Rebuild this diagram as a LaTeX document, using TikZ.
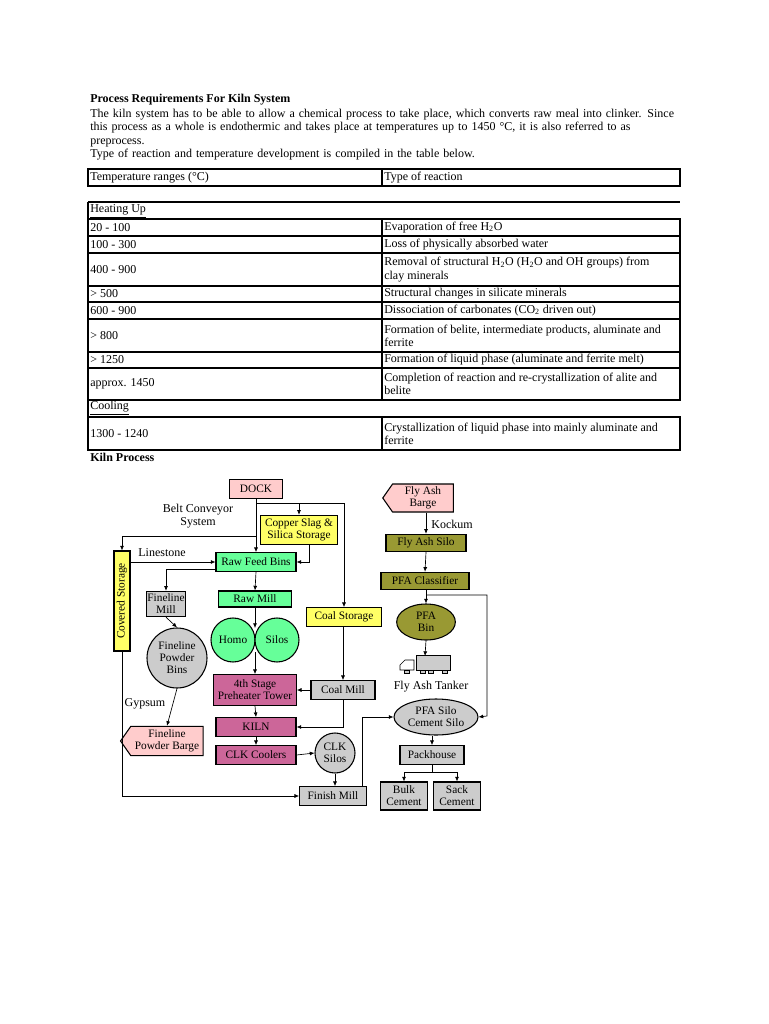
\documentclass[tikz,border=0pt]{standalone}
\usepackage{fontspec}
\setmainfont{Liberation Serif}
\usetikzlibrary{arrows.meta,shapes.geometric,shapes.symbols}
\definecolor{pinkf}{HTML}{FFCCCC}
\definecolor{yelf}{HTML}{FFFF66}
\definecolor{grnf}{HTML}{66FF99}
\definecolor{grayf}{HTML}{CCCCCC}
\definecolor{magf}{HTML}{CC6699}
\definecolor{olvf}{HTML}{999933}
\tikzset{
 txt/.style={font=\fontsize{9}{10}\selectfont,inner sep=0pt},
 box/.style={draw,line width=0.8pt,font=\fontsize{8.5}{9}\selectfont,align=center,inner sep=1pt,minimum height=14pt},
 circ/.style={draw,circle,line width=0.8pt,font=\fontsize{8.5}{9}\selectfont,align=center,inner sep=0pt},
 ell/.style={draw,ellipse,line width=0.8pt,font=\fontsize{8.5}{9}\selectfont,align=center,inner sep=0pt},
 arr/.style={-{Latex[length=3.5pt,width=3pt]},line width=0.5pt},
 ln/.style={line width=0.5pt},
 row/.style={draw,line width=1.4pt},
}
\begin{document}
\begin{tikzpicture}[x=0.75pt,y=-0.75pt]
\useasboundingbox (0,0) rectangle (768,1024);
% text
\node[txt,anchor=west,font=\fontsize{9}{10}\selectfont\bfseries] (t1) at (90,100) {Process Requirements For Kiln System};
\node[txt,anchor=north west,align=left,text width=600pt*0.75] (t2) at (90,109) {The kiln system has to be able to allow a chemical process to take place, which converts raw meal into clinker. Since\\this process as a whole is endothermic and takes place at temperatures up to 1450 °C, it is also referred to as\\preprocess.\\Type of reaction and temperature development is compiled in the table below.};
% table
\newcommand{\trow}[5]{%
 \draw[row] (88,#1) rectangle (680,#2); \draw[row] (382,#1) -- (382,#2);
 \node[txt,anchor=west] at (90,{(#1+#2)/2}) {#3};
 \node[txt,anchor=west,align=left] at (384,{(#1+#2)/2}) {#4};}
\trow{169}{186}{Temperature ranges (°C)}{Type of reaction}{}
\draw[line width=1.4pt] (88,202) -- (680,202);
\draw[row] (88,202) -- (88,219);
\node[txt,anchor=west] (hu) at (90,211) {\underline{Heating Up}};
\trow{219}{236}{20 - 100}{Evaporation of free H\textsubscript{2}O}{}
\trow{236}{253}{100 - 300}{Loss of physically absorbed water}{}
\trow{253}{286}{400 - 900}{Removal of structural H\textsubscript{2}O (H\textsubscript{2}O and OH groups) from\\clay minerals}{}
\trow{286}{302}{> 500}{Structural changes in silicate minerals}{}
\trow{302}{319}{600 - 900}{Dissociation of carbonates (CO\textsubscript{2} driven out)}{}
\trow{319}{352}{> 800}{Formation of belite, intermediate products, aluminate and\\ferrite}{}
\trow{352}{368}{> 1250}{Formation of liquid phase (aluminate and ferrite melt)}{}
\trow{368}{400}{approx. 1450}{Completion of reaction and re-crystallization of alite and\\belite}{}
\draw[row] (88,400) -- (88,417);
\node[txt,anchor=west] (co) at (90,408) {\underline{Cooling}};
\trow{417}{450}{1300 - 1240}{Crystallization of liquid phase into mainly aluminate and\\ferrite}{}
\node[txt,anchor=west,font=\fontsize{9}{10}\selectfont\bfseries] (kp) at (90,457) {Kiln Process};
% diagram nodes
\node[box,fill=pinkf,minimum width=40pt] (dock) at (256,489) {DOCK};
\node[txt,align=center] (belt) at (198,516) {Belt Conveyor\\System};
\node[box,fill=yelf,minimum width=58pt,minimum height=22pt] (cs) at (299,530) {Copper Slag \&\\Silica Storage};
\node[box,fill=yelf,rotate=90,minimum width=75pt,minimum height=12pt] (cov) at (122,601) {Covered Storage};
\node[txt] (lime) at (162,553) {Linestone};
\node[box,fill=grnf,minimum width=60pt] (rfb) at (256,562) {Raw Feed Bins};
\node[box,fill=grayf,minimum width=25pt,minimum height=19pt] (flm) at (166,604) {Fineline\\Mill};
\node[box,fill=grnf,minimum width=55pt,minimum height=12pt] (rm) at (255,599) {Raw Mill};
\node[box,fill=yelf,minimum width=56pt] (coal) at (344,617) {Coal Storage};
\node[circ,fill=grnf,minimum size=33pt] (homo) at (233,640) {Homo};
\node[circ,fill=grnf,minimum size=33pt] (silos) at (277,640) {Silos};
\node[circ,fill=grayf,minimum size=45pt] (fpb) at (177,658) {Fineline\\Powder\\Bins};
\node[box,fill=magf,minimum width=62pt,minimum height=23pt] (pre) at (255,690) {4th Stage\\Preheater Tower};
\node[box,fill=grayf,minimum width=48pt] (cm) at (343,690) {Coal Mill};
\node[txt] (gyp) at (145,704) {Gypsum};
\node[box,fill=magf,minimum width=60pt] (kiln) at (256,727) {KILN};
\node[signal,signal to=west,signal pointer angle=110,draw,line width=0.8pt,fill=pinkf,font=\fontsize{8.5}{9}\selectfont,align=center,inner sep=1pt,minimum width=62pt,minimum height=22pt] (fpbg) at (167,741) {Fineline\\Powder Barge};
\node[box,fill=magf,minimum width=60pt] (clkc) at (256,755) {CLK Coolers};
\node[circ,fill=grayf,minimum size=30pt] (clks) at (335,753) {CLK\\Silos};
\node[box,fill=grayf,minimum width=50pt] (fm) at (333,796) {Finish Mill};
\node[signal,signal to=west,signal pointer angle=110,draw,line width=0.8pt,fill=pinkf,font=\fontsize{8.5}{9}\selectfont,align=center,inner sep=1pt,minimum width=53pt,minimum height=21pt] (fab) at (423,498) {Fly Ash\\Barge};
\node[txt] (kock) at (452,524) {Kockum};
\node[box,fill=olvf,minimum width=60pt,minimum height=13pt] (fas) at (426,543) {Fly Ash Silo};
\node[box,fill=olvf,minimum width=66pt,minimum height=13pt] (pfac) at (425,581) {PFA Classifier};
\node[ell,fill=olvf,minimum width=44pt,minimum height=27pt] (pfab) at (426,622) {PFA\\Bin};
% truck
\coordinate (trk) at (425,656);
\draw[fill=grayf,line width=0.5pt] (416,655) rectangle (450,670);
\draw[fill=white,line width=0.5pt] (414,670) -- (414,660) -- (405,660) -- (400,665) -- (400,670) -- cycle;
\foreach \x in {404,420,428,442}{\draw[fill=grayf,line width=0.4pt] (\x,670) rectangle ++(5,3);}
\node[txt] (tank) at (431,687) {Fly Ash Tanker};
\node[ell,fill=grayf,minimum width=63pt,minimum height=27pt] (pfas) at (436,717) {PFA Silo\\Cement Silo};
\node[box,fill=grayf,minimum width=48pt] (pack) at (432,755) {Packhouse};
\node[box,fill=grayf,minimum width=35pt,minimum height=21pt] (bulk) at (404,796) {Bulk\\Cement};
\node[box,fill=grayf,minimum width=35pt,minimum height=21pt] (sack) at (457,796) {Sack\\Cement};
% connectors
\coordinate (j1) at (256,503);
\draw[arr] (dock.south) -- (rfb.north);
\draw[arr] (j1) -| (coal.north);
\draw[arr] (299,503) -- (cs.north);
\draw[arr] (256,536) -| (cov.east);
\draw[arr] (cov.south |- rfb.west) -- (rfb.west);
\draw[arr] (309,545) |- (rfb.east);
\draw[arr] (rfb.south) -- (rm.north);
\draw[arr] (216,569) -| (flm.north);
\draw[arr] (rm.south) -- (255,628);
\draw[arr] (255,652) -- (pre.north);
\draw[arr] (flm.south) -- (fpb.north);
\draw[arr] (fpb.south) -- (fpbg.north);
\draw[arr] (coal.south -| cm.north) -- (cm.north);
\draw[arr] (cm.west) -- (pre.east);
\draw[arr] (cm.south) |- (kiln.east);
\draw[arr] (pre.south) -- (kiln.north);
\draw[arr] (kiln.south) -- (clkc.north);
\draw[arr] (clkc.east) -- (clks.west);
\draw[arr] (clks.south) -- (fm.north -| clks.south);
\draw[arr] (cov.west) |- (fm.west);
\draw[arr] (362,786) |- (pfas.west);
\draw[arr] (fab.south -| fas.north) -- (fas.north);
\draw[arr] (fas.south) -- (pfac.north);
\draw[arr] (pfac.south -| pfab.north) -- (pfab.north);
\draw[arr] (426,595) -| (487,716) -- (pfas.east);
\draw[arr] (pfab.south) -- (trk);
\draw[arr] (pfas.south -| pack.north) -- (pack.north);
\draw[ln] (pack.south) -- (432,772);
\draw[arr] (432,772) -| (bulk.north);
\draw[arr] (432,772) -| (sack.north);
\end{tikzpicture}
\end{document}
